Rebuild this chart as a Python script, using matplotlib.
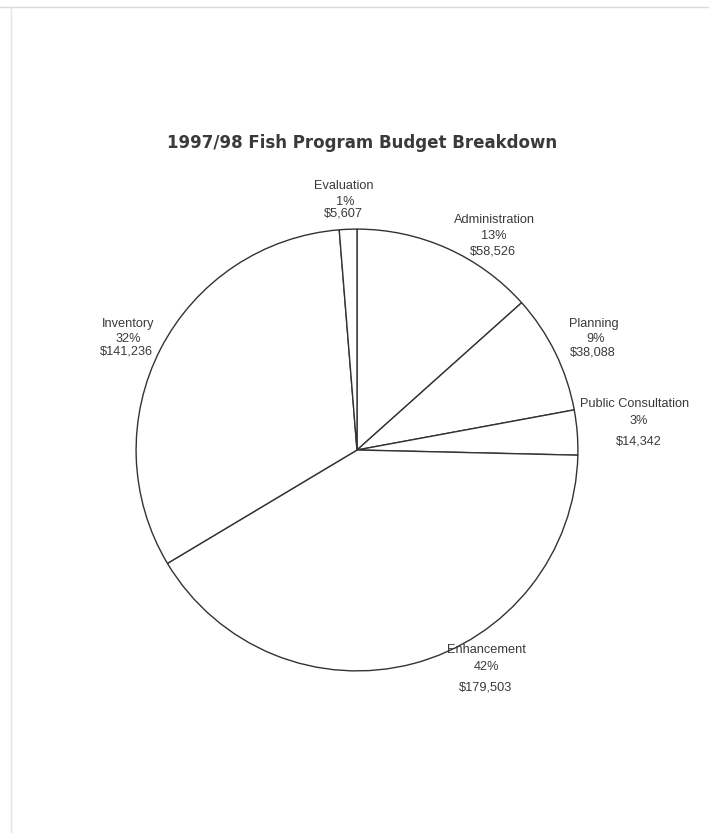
import matplotlib
matplotlib.use("Agg")
import matplotlib.pyplot as plt
from matplotlib.lines import Line2D

categories = ["Administration", "Planning", "Public Consultation", "Enhancement", "Inventory", "Evaluation"]
values = [58526, 38088, 14342, 179503, 141236, 5607]
pct_labels = ["13%", "9%", "3%", "42%", "32%", "1%"]
title = "1997/98 Fish Program Budget Breakdown"

W, H = 709, 833
fig = plt.figure(figsize=(W / 100, H / 100), dpi=100)
fig.patch.set_facecolor("white")
plt.rcParams['font.family'] = ['Liberation Sans', 'DejaVu Sans']

# pie axes: center (357,450), radius 222 px
cx, cy, r = 357, 450, 222
ax = fig.add_axes([(cx - r) / W, (H - cy - r) / H, 2 * r / W, 2 * r / H])
ax.pie(values, startangle=90, counterclock=False, radius=1.0,
       colors=["white"] * len(values),
       wedgeprops=dict(edgecolor="#333333", linewidth=1.0))
ax.set_xlim(-1.005, 1.005)
ax.set_ylim(-1.005, 1.005)
ax.set_aspect("equal")
ax.axis("off")

def px(x, y):
    return x / W, 1 - y / H

fig.text(*px(362, 143), title, ha="center", va="center", fontsize=12,
         fontweight="bold", color="#3a3a3a", family=["DejaVu Sans"])

# label layout (pixel positions of the three lines per label)
label_pos = {
    "Administration": [(494, 220), (494, 236), (493, 251)],
    "Planning": [(594, 324), (596, 339), (593, 353)],
    "Public Consultation": [(635, 404), (639, 421), (639, 441)],
    "Enhancement": [(486, 650), (486, 667), (486, 688)],
    "Inventory": [(128, 324), (128, 339), (126, 352)],
    "Evaluation": [(344, 186), (345, 202), (343, 213)],
}
for cat, v, p in zip(categories, values, pct_labels):
    lines = [cat, p, "${:,}".format(v)]
    for (x, y), t in zip(label_pos[cat], lines):
        fig.text(*px(x, y), t, ha="center", va="center", fontsize=9.2,
                 color="#3a3a3a")

# faint scan border
fig.add_artist(Line2D([0.0, 1.0], [1 - 7 / H, 1 - 7 / H], transform=fig.transFigure,
                      color="#d8d8d8", linewidth=1.0))
fig.add_artist(Line2D([11 / W, 11 / W], [0.0, 1 - 7 / H], transform=fig.transFigure,
                      color="#e4e4e4", linewidth=1.0))

fig.savefig("out.png", dpi=100, facecolor="white")
